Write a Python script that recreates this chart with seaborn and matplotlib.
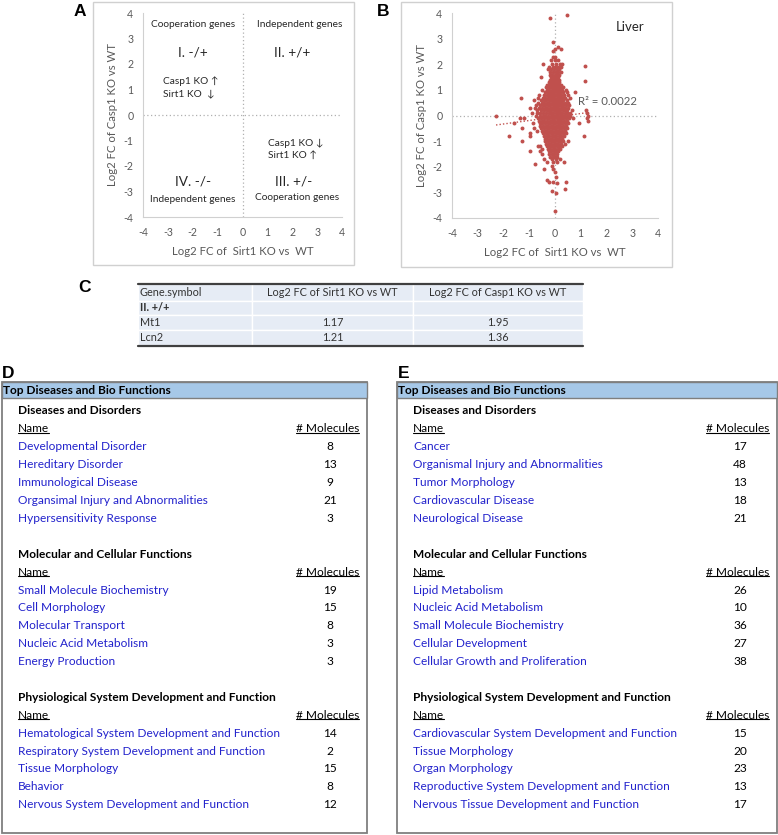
import numpy as np
import pandas as pd
import matplotlib
matplotlib.use("Agg")
import matplotlib.pyplot as plt
import seaborn as sns
from matplotlib.patches import Rectangle
from matplotlib.lines import Line2D

# -----------------------------
# DATA
# -----------------------------
# panel B: liver scatter, dense cloud read row by row (casp1 value, sirt1 values)
cloud_rows = [
    (2.30, [-0.09, 0.00]),
    (2.15, [-0.14, -0.01, 0.10]),
    (2.00, [-0.45, -0.12, 0.03, 0.19, 0.27]),
    (1.90, [-0.22, -0.08, 0.01, 0.12, 0.24]),
    (1.80, [-0.26, -0.15, -0.04, 0.06, 0.15]),
    (1.70, [-0.19, -0.06, 0.04, 0.11, 0.22]),
    (1.60, [-0.21, -0.10, 0.00, 0.07, 0.14]),
    (1.50, [-0.54, -0.17, -0.08, 0.00, 0.06, 0.12]),
    (1.40, [-0.20, -0.11, -0.03, 0.04, 0.10, 0.17]),
    (1.30, [-0.22, -0.14, -0.06, 0.01, 0.08, 0.15]),
    (1.20, [-0.30, -0.20, -0.12, -0.05, 0.02, 0.09, 0.16, 0.25]),
    (1.10, [-0.34, -0.24, -0.15, -0.07, 0.00, 0.07, 0.14, 0.22, 0.33]),
    (1.00, [-0.50, -0.31, -0.22, -0.13, -0.05, 0.03, 0.10, 0.18, 0.27, 0.42]),
    (0.90, [-0.40, -0.28, -0.19, -0.10, -0.02, 0.06, 0.13, 0.21, 0.30, 0.45, 0.78]),
    (0.80, [-0.62, -0.44, -0.33, -0.24, -0.15, -0.07, 0.01, 0.09, 0.17, 0.25, 0.34, 0.52]),
    (0.70, [-1.32, -0.66, -0.48, -0.37, -0.27, -0.18, -0.10, -0.02, 0.06, 0.14, 0.22, 0.30, 0.40, 0.58]),
    (0.60, [-0.82, -0.56, -0.44, -0.34, -0.25, -0.16, -0.08, 0.00, 0.08, 0.16, 0.24, 0.33, 0.45]),
    (0.50, [-0.65, -0.52, -0.41, -0.31, -0.22, -0.13, -0.05, 0.03, 0.11, 0.19, 0.28, 0.37, 0.50]),
    (0.40, [-0.72, -0.58, -0.47, -0.37, -0.27, -0.18, -0.09, -0.01, 0.07, 0.15, 0.24, 0.33, 0.42, 0.55]),
    (0.30, [-0.97, -0.78, -0.62, -0.50, -0.40, -0.30, -0.20, -0.11, -0.03, 0.05, 0.13, 0.22, 0.31, 0.40, 0.50]),
    (0.20, [-0.68, -0.55, -0.44, -0.33, -0.23, -0.14, -0.05, 0.03, 0.12, 0.21, 0.30, 0.39, 0.48, 0.65, 1.20]),
    (0.10, [-0.90, -0.70, -0.58, -0.46, -0.35, -0.25, -0.15, -0.06, 0.02, 0.10, 0.19, 0.28, 0.37, 0.46, 0.58, 1.23]),
    (0.00, [-2.29, -0.75, -0.60, -0.48, -0.37, -0.27, -0.17, -0.08, 0.01, 0.09, 0.18, 0.27, 0.36, 0.45, 0.58, 1.30]),
    (-0.10, [-1.36, -1.19, -0.66, -0.54, -0.43, -0.32, -0.22, -0.12, -0.03, 0.06, 0.15, 0.24, 0.33, 0.43, 0.55, 0.71, 1.23]),
    (-0.20, [-0.63, -0.52, -0.41, -0.31, -0.21, -0.11, -0.02, 0.07, 0.16, 0.25, 0.35, 0.46, 1.30]),
    (-0.30, [-1.58, -0.84, -0.60, -0.49, -0.38, -0.28, -0.18, -0.08, 0.01, 0.10, 0.19, 0.29, 0.40, 0.52, 0.95]),
    (-0.40, [-0.58, -0.47, -0.36, -0.26, -0.16, -0.06, 0.03, 0.12, 0.21, 0.31, 0.42]),
    (-0.50, [-1.29, -0.80, -0.55, -0.44, -0.33, -0.23, -0.13, -0.04, 0.05, 0.14, 0.24, 0.34, 0.45]),
    (-0.60, [-0.71, -0.50, -0.40, -0.30, -0.20, -0.10, -0.01, 0.08, 0.17, 0.27, 0.38]),
    (-0.70, [-0.99, -0.46, -0.36, -0.26, -0.16, -0.07, 0.02, 0.11, 0.20, 0.30, 0.42]),
    (-0.80, [-1.77, -0.97, -0.43, -0.33, -0.23, -0.13, -0.04, 0.05, 0.14, 0.24, 0.35, 1.14]),
    (-0.90, [-0.40, -0.30, -0.20, -0.10, -0.01, 0.08, 0.17, 0.27]),
    (-1.00, [-1.29, -0.37, -0.27, -0.17, -0.08, 0.01, 0.10, 0.19, 0.30, 0.52]),
    (-1.10, [-0.34, -0.24, -0.14, -0.05, 0.04, 0.13, 0.22, 0.39]),
    (-1.20, [-0.65, -0.58, -0.31, -0.21, -0.11, -0.02, 0.07, 0.16, 0.26]),
    (-1.30, [-0.52, -0.28, -0.18, -0.08, 0.01, 0.10, 0.19]),
    (-1.40, [-0.97, -0.58, -0.25, -0.15, -0.05, 0.04, 0.13]),
    (-1.50, [-0.52, -0.22, -0.12, -0.02, 0.07]),
    (-1.60, [-0.18, -0.09, 0.00, 0.09]),
    (-1.70, [-0.43, -0.13, 0.03, 0.19]),
    (-1.80, [-0.30, -0.06, 0.07, 0.36]),
]
outlier_sirt1 = [-0.20, 0.45, -0.09, 0.13, 0.01, 0.24, -0.09, 1.16, 1.18, -0.79, -0.13,
                 -0.42, -0.07, 0.00, 0.04, -0.30, -0.22, -0.07, 0.43, 0.09, 0.39, -0.12,
                 0.04, 0.01]
outlier_casp1 = [3.82, 3.93, 2.88, 2.67, 2.58, 2.58, 2.53, 1.93, 1.35, -1.90, -1.97,
                 -2.07, -2.09, -2.20, -2.39, -2.52, -2.61, -2.61, -2.61, -2.65, -2.88, -2.95,
                 -3.04, -3.73]
trend_slope = 0.136
trend_intercept = -0.059
r_squared = 0.0022

# panel C
c_header = ["Gene.symbol", "Log2 FC of Sirt1 KO vs WT", "Log2 FC of Casp1 KO vs WT"]
c_group = "II. +/+"
c_genes = ["Mt1", "Lcn2"]
c_sirt1 = [1.17, 1.21]
c_casp1 = [1.95, 1.36]

# panels D and E
section_titles = ["Diseases and Disorders", "Molecular and Cellular Functions",
                  "Physiological System Development and Function"]
d_names = [
    ["Developmental Disorder", "Hereditary Disorder", "Immunological Disease",
     "Organsimal Injury and Abnormalities", "Hypersensitivity Response"],
    ["Small Molecule Biochemistry", "Cell Morphology", "Molecular Transport",
     "Nucleic Acid Metabolism", "Energy Production"],
    ["Hematological System Development and Function", "Respiratory System Development and Function",
     "Tissue Morphology", "Behavior", "Nervous System Development and Function"],
]
d_counts = [[8, 13, 9, 21, 3], [19, 15, 8, 3, 3], [14, 2, 15, 8, 12]]
e_names = [
    ["Cancer", "Organismal Injury and Abnormalities", "Tumor Morphology",
     "Cardiovascular Disease", "Neurological Disease"],
    ["Lipid Metabolism", "Nucleic Acid Metabolism", "Small Molecule Biochemistry",
     "Cellular Development", "Cellular Growth and Proliferation"],
    ["Cardiovascular System Development and Function", "Tissue Morphology", "Organ Morphology",
     "Reproductive System Development and Function", "Nervous Tissue Development and Function"],
]
e_counts = [[17, 48, 13, 18, 21], [26, 10, 36, 27, 38], [15, 20, 23, 13, 17]]

# -----------------------------
# STYLE
# -----------------------------
sns.set_theme(style="white")
plt.rcParams['font.family'] = ['Lato', 'DejaVu Sans']
plt.rcParams['axes.unicode_minus'] = False

W, H = 778, 835
fig = plt.figure(figsize=(W / 100, H / 100), dpi=100)
fig.patch.set_facecolor("white")

GRAY = "#595959"
RED = "#C0504D"
BLUE_TXT = "#2222CC"
LETTER_FONT = ['Liberation Sans', 'DejaVu Sans']

page = fig.add_axes([0, 0, 1, 1])
page.set_xlim(0, W)
page.set_ylim(H, 0)
page.axis("off")


def px_axes(x0, y0, x1, y1):
    return fig.add_axes([x0 / W, 1 - y1 / H, (x1 - x0) / W, (y1 - y0) / H])


def style_scatter_axes(ax):
    ax.set_xlim(-4, 4)
    ax.set_ylim(-4, 4)
    ax.set_xticks(range(-4, 5))
    ax.set_yticks(range(-4, 5))
    ax.set_facecolor("none")
    for side in ["top", "right"]:
        ax.spines[side].set_visible(False)
    for side in ["left", "bottom"]:
        ax.spines[side].set_color("#D0D0D0")
        ax.spines[side].set_linewidth(0.8)
    ax.tick_params(axis="both", direction="out", length=3, width=0.8, color="#D0D0D0",
                   labelsize=7.6, labelcolor=GRAY, pad=4)
    ax.axvline(0, ls=(0, (1, 2)), color="#B0B0B0", lw=0.9, zorder=0)
    ax.axhline(0, ls=(0, (1, 2)), color="#B0B0B0", lw=0.9, zorder=0)
    ax.set_xlabel("Log2 FC of  Sirt1 KO vs  WT", fontsize=8.2, color=GRAY, labelpad=6)
    ax.set_ylabel("Log2 FC of Casp1 KO vs WT", fontsize=8.2, color=GRAY, labelpad=4)


# -----------------------------
# PANEL A / B FRAMES + LETTERS
# -----------------------------
page.add_patch(Rectangle((93, 2), 261, 263, fill=False, ec="#D0D0D0", lw=1.0))
page.add_patch(Rectangle((401, 2), 271, 265, fill=False, ec="#D0D0D0", lw=1.0))
for letter, lx, ly in [("A", 80, 12), ("B", 383, 12), ("C", 85, 287), ("D", 8, 373), ("E", 404, 373)]:
    page.text(lx, ly, letter, fontsize=12.5, weight="bold", ha="center", va="center",
              family=LETTER_FONT, color="black")

# -----------------------------
# PANEL A
# -----------------------------
axA = px_axes(143, 13, 342, 217)
style_scatter_axes(axA)
quad_txt = dict(ha="center", va="center", color="#262626")
axA.text(-2.0, 3.55, "Cooperation genes", fontsize=7.3, **quad_txt)
axA.text(2.3, 3.55, "Independent genes", fontsize=7.3, **quad_txt)
axA.text(-2.0, 2.45, "I. -/+", fontsize=9.8, **quad_txt)
axA.text(2.0, 2.45, "II. +/+", fontsize=9.8, **quad_txt)
axA.text(-2.0, -2.6, "IV. -/-", fontsize=9.8, **quad_txt)
axA.text(2.05, -2.6, "III. +/-", fontsize=9.8, **quad_txt)
axA.text(-2.0, -3.3, "Independent genes", fontsize=7.3, **quad_txt)
axA.text(2.2, -3.25, "Cooperation genes", fontsize=7.3, **quad_txt)
axA.text(-3.2, 1.33, "Casp1 KO \u2191", fontsize=7.3, ha="left", va="center", color="#262626")
axA.text(-3.2, 0.82, "Sirt1 KO  \u2193", fontsize=7.3, ha="left", va="center", color="#262626")
axA.text(1.03, -1.1, "Casp1 KO \u2193", fontsize=7.3, ha="left", va="center", color="#262626")
axA.text(1.03, -1.6, "Sirt1 KO \u2191", fontsize=7.3, ha="left", va="center", color="#262626")

# -----------------------------
# PANEL B
# -----------------------------
xs, ys = [], []
for yv, row in cloud_rows:
    xs += row
    ys += [yv] * len(row)
xs += outlier_sirt1
ys += outlier_casp1
liver = pd.DataFrame({"sirt1": xs, "casp1": ys})

axB = px_axes(452, 13, 658, 218)
style_scatter_axes(axB)
sns.scatterplot(data=liver, x="sirt1", y="casp1", ax=axB, s=8, color=RED,
                linewidth=0, alpha=1.0, zorder=3)
axB.set_xlabel("Log2 FC of  Sirt1 KO vs  WT", fontsize=8.2, color=GRAY, labelpad=6)
axB.set_ylabel("Log2 FC of Casp1 KO vs WT", fontsize=8.2, color=GRAY, labelpad=4)
tx = np.array([liver["sirt1"].min(), liver["sirt1"].max()])
axB.plot(tx, trend_slope * tx + trend_intercept, ls=(0, (1, 1.5)), color=RED, lw=1.0, zorder=4)
axB.text(0.88, 0.55, f"R\u00b2 = {r_squared}", fontsize=8.2, color=GRAY, ha="left", va="center")
axB.text(2.9, 3.47, "Liver", fontsize=9.5, color="#262626", ha="center", va="center")

# -----------------------------
# PANEL C (table)
# -----------------------------
col_edges = [138, 252, 413, 583]
row_edges = [284, 300.5, 315, 329.5, 345]
for r in range(4):
    for c in range(3):
        page.add_patch(Rectangle((col_edges[c], row_edges[r]), col_edges[c + 1] - col_edges[c],
                                 row_edges[r + 1] - row_edges[r], fc="#E6ECF5", ec="white", lw=1.0))
page.plot([138, 583], [283.5, 283.5], color="#404040", lw=1.6)
page.plot([138, 583], [345.5, 345.5], color="#404040", lw=1.6)
c_rows = [c_header, [c_group, "", ""]] + [[g, f"{a:.2f}", f"{b:.2f}"] for g, a, b in zip(c_genes, c_sirt1, c_casp1)]
for r, cells in enumerate(c_rows):
    yc = (row_edges[r] + row_edges[r + 1]) / 2
    for c, txt in enumerate(cells):
        if c == 0:
            page.text(col_edges[0] + 2, yc, txt, fontsize=7.8, ha="left", va="center", color="#333333",
                      weight="bold" if r == 1 else "normal")
        else:
            page.text((col_edges[c] + col_edges[c + 1]) / 2, yc, txt, fontsize=7.8, ha="center",
                      va="center", color="#333333")

# -----------------------------
# PANELS D / E (IPA tables)
# -----------------------------
underlined = []


def ipa_panel(x0, x1, names_lists, counts_lists):
    y0, y1 = 382, 833
    page.add_patch(Rectangle((x0, y0), x1 - x0, y1 - y0, fill=False, ec="#7F7F7F", lw=1.3))
    page.add_patch(Rectangle((x0, y0), x1 - x0, 16, fc="#A6C8E8", ec="#7F7F7F", lw=1.0))
    page.text(x0 + 1, 390.5, "Top Diseases and Bio Functions", fontsize=8.6, weight="bold",
              ha="left", va="center", color="black")
    tx_name = x0 + 16
    tx_right = x1 - 8
    tx_num = x1 - 37
    row = 0
    for title, names, counts in zip(section_titles, names_lists, counts_lists):
        yy = 411 + 17.9 * row
        page.text(tx_name, yy, title, fontsize=8.6, weight="bold", ha="left", va="center", color="black")
        yy += 17.9
        underlined.append(page.text(tx_name, yy, "Name", fontsize=8.6, ha="left", va="center", color="black"))
        underlined.append(page.text(tx_right, yy, "# Molecules", fontsize=8.6, ha="right", va="center", color="black"))
        for k, (nm, cnt) in enumerate(zip(names, counts)):
            yy = 411 + 17.9 * (row + 2 + k)
            page.text(tx_name, yy, nm, fontsize=8.6, ha="left", va="center", color=BLUE_TXT)
            page.text(tx_num, yy, str(cnt), fontsize=8.6, ha="center", va="center", color="black")
        row += 2 + len(names) + 1


ipa_panel(2, 367, d_names, d_counts)
ipa_panel(397, 777, e_names, e_counts)

fig.canvas.draw()
renderer = fig.canvas.get_renderer()
for t in underlined:
    bb = t.get_window_extent(renderer)
    yline = (bb.y0 + 1.5) / H
    fig.add_artist(Line2D([bb.x0 / W, bb.x1 / W], [yline, yline], color="black", lw=0.8))

fig.savefig("out.png", dpi=100, facecolor="white")
